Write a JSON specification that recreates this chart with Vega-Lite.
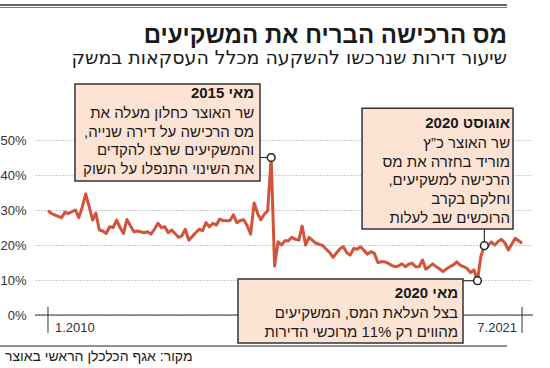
{
  "$schema": "https://vega.github.io/schema/vega-lite/v6.json",
  "width": 498,
  "height": 175,
  "autosize": {"type": "none"},
  "padding": {"left": 35, "top": 140, "right": 17, "bottom": 53},
  "background": "white",
  "config": {"view": {"stroke": null}, "text": {"font": "Liberation Sans"}},
  "encoding": {
    "x": {"field": "x", "type": "temporal", "scale": {"type": "utc", "domain": [{"year": 2009, "month": 9, "date": 8, "utc": true}, {"year": 2021, "month": 10, "date": 6, "utc": true}]}, "axis": null},
    "y": {"field": "y", "type": "quantitative", "scale": {"domain": [0, 50], "nice": false, "zero": false},
      "axis": {"values": [0, 10, 20, 30, 40, 50], "domain": false, "ticks": false, "grid": true, "gridDash": [1, 2], "gridColor": "#9a9a9a", "gridWidth": 1, "labelPadding": 9, "labelFont": "Liberation Sans Narrow, Liberation Sans", "labelFontSize": 13, "labelColor": "#333333", "labelExpr": "datum.value + '%'", "title": null}}
  },
  "layer": [
    {"data": {"values": [{"x": "2008-11-01", "x2": "2021-02-18", "y": 88.57}]}, "mark": {"type": "rule", "color": "#666666", "strokeWidth": 2}, "encoding": {"x2": {"field": "x2"}}},
    {"data": {"values": [{"x": "2008-11-01", "x2": "2021-02-18", "y": 87.86}]}, "mark": {"type": "rule", "color": "#777777", "strokeWidth": 1}, "encoding": {"x2": {"field": "x2"}}},
    {"data": {"values": [{"x": "2008-11-01", "x2": "2021-02-18", "y": -8.86}]}, "mark": {"type": "rule", "color": "#222222", "strokeWidth": 1}, "encoding": {"x2": {"field": "x2"}}},
    {"data": {"values": [{"x": "2009-09-08", "x2": "2021-10-06", "y": 0}]}, "mark": {"type": "rule", "color": "#333333", "strokeWidth": 1.2}, "encoding": {"x2": {"field": "x2"}}},
    {"data": {"values": [{"x": "2010-01-01", "y": 2.3, "y2": -5.1}, {"x": "2021-07-01", "y": 2.3, "y2": -5.1}]}, "mark": {"type": "rule", "color": "#333333", "strokeWidth": 1}, "encoding": {"y2": {"field": "y2"}}},
    {"data": {"values": [{"x": "2010-03-04", "y": -4.9, "t": "1.2010"}]}, "mark": {"type": "text", "align": "left", "baseline": "alphabetic", "font": "Liberation Sans Narrow, Liberation Sans", "fontSize": 13, "color": "#333333"}, "encoding": {"text": {"field": "t"}}},
    {"data": {"values": [{"x": "2021-05-18", "y": -4.9, "t": "7.2021"}]}, "mark": {"type": "text", "align": "right", "baseline": "alphabetic", "font": "Liberation Sans Narrow, Liberation Sans", "fontSize": 13, "color": "#333333"}, "encoding": {"text": {"field": "t"}}},
    {"data": {"values": [
      {"x": "2010-01-01", "y": 29.8}, {"x": "2010-02-01", "y": 29.0}, {"x": "2010-03-01", "y": 28.6}, {"x": "2010-04-01", "y": 28.2}, {"x": "2010-05-01", "y": 27.8}, {"x": "2010-06-01", "y": 29.4}, {"x": "2010-07-01", "y": 29.0}, {"x": "2010-08-01", "y": 29.5}, {"x": "2010-09-01", "y": 30.0}, {"x": "2010-10-01", "y": 27.8}, {"x": "2010-11-01", "y": 30.9}, {"x": "2010-12-01", "y": 34.6},
      {"x": "2011-01-01", "y": 30.9}, {"x": "2011-02-01", "y": 27.1}, {"x": "2011-03-01", "y": 29.1}, {"x": "2011-04-01", "y": 24.3}, {"x": "2011-05-01", "y": 24.0}, {"x": "2011-06-01", "y": 23.3}, {"x": "2011-07-01", "y": 25.2}, {"x": "2011-08-01", "y": 25.0}, {"x": "2011-09-01", "y": 27.1}, {"x": "2011-10-01", "y": 25.0}, {"x": "2011-11-01", "y": 23.3}, {"x": "2011-12-01", "y": 27.3},
      {"x": "2012-01-01", "y": 25.5}, {"x": "2012-02-01", "y": 23.8}, {"x": "2012-03-01", "y": 24.0}, {"x": "2012-04-01", "y": 23.8}, {"x": "2012-05-01", "y": 23.5}, {"x": "2012-06-01", "y": 23.8}, {"x": "2012-07-01", "y": 23.1}, {"x": "2012-08-01", "y": 24.5}, {"x": "2012-09-01", "y": 26.2}, {"x": "2012-10-01", "y": 25.0}, {"x": "2012-11-01", "y": 25.2}, {"x": "2012-12-01", "y": 23.5},
      {"x": "2013-01-01", "y": 24.3}, {"x": "2013-02-01", "y": 23.2}, {"x": "2013-03-01", "y": 22.2}, {"x": "2013-04-01", "y": 22.6}, {"x": "2013-05-01", "y": 24.5}, {"x": "2013-06-01", "y": 21.4}, {"x": "2013-07-01", "y": 22.4}, {"x": "2013-08-01", "y": 23.5}, {"x": "2013-09-01", "y": 24.5}, {"x": "2013-10-01", "y": 24.1}, {"x": "2013-11-01", "y": 26.4}, {"x": "2013-12-01", "y": 25.2},
      {"x": "2014-01-01", "y": 26.2}, {"x": "2014-02-01", "y": 25.7}, {"x": "2014-03-01", "y": 27.4}, {"x": "2014-04-01", "y": 27.0}, {"x": "2014-05-01", "y": 26.9}, {"x": "2014-06-01", "y": 27.0}, {"x": "2014-07-01", "y": 28.6}, {"x": "2014-08-01", "y": 26.4}, {"x": "2014-09-01", "y": 27.0}, {"x": "2014-10-01", "y": 27.2}, {"x": "2014-11-01", "y": 25.5}, {"x": "2014-12-01", "y": 23.1},
      {"x": "2015-01-01", "y": 32.0}, {"x": "2015-02-01", "y": 29.0}, {"x": "2015-03-01", "y": 27.2}, {"x": "2015-04-01", "y": 28.8}, {"x": "2015-05-01", "y": 29.8}, {"x": "2015-06-01", "y": 45.0}, {"x": "2015-07-01", "y": 14.0}, {"x": "2015-08-01", "y": 20.9}, {"x": "2015-09-01", "y": 20.0}, {"x": "2015-10-01", "y": 21.2}, {"x": "2015-11-01", "y": 21.2}, {"x": "2015-12-01", "y": 22.2},
      {"x": "2016-01-01", "y": 21.6}, {"x": "2016-02-01", "y": 21.4}, {"x": "2016-03-01", "y": 25.4}, {"x": "2016-04-01", "y": 20.0}, {"x": "2016-05-01", "y": 22.2}, {"x": "2016-06-01", "y": 21.3}, {"x": "2016-07-01", "y": 20.5}, {"x": "2016-08-01", "y": 20.2}, {"x": "2016-09-01", "y": 19.8}, {"x": "2016-10-01", "y": 18.8}, {"x": "2016-11-01", "y": 17.8}, {"x": "2016-12-01", "y": 16.5},
      {"x": "2017-01-01", "y": 17.8}, {"x": "2017-02-01", "y": 19.0}, {"x": "2017-03-01", "y": 19.5}, {"x": "2017-04-01", "y": 17.8}, {"x": "2017-05-01", "y": 17.1}, {"x": "2017-06-01", "y": 19.0}, {"x": "2017-07-01", "y": 18.8}, {"x": "2017-08-01", "y": 19.5}, {"x": "2017-09-01", "y": 18.4}, {"x": "2017-10-01", "y": 17.4}, {"x": "2017-11-01", "y": 18.1}, {"x": "2017-12-01", "y": 17.6},
      {"x": "2018-01-01", "y": 15.0}, {"x": "2018-02-01", "y": 15.2}, {"x": "2018-03-01", "y": 15.2}, {"x": "2018-04-01", "y": 14.8}, {"x": "2018-05-01", "y": 14.2}, {"x": "2018-06-01", "y": 13.8}, {"x": "2018-07-01", "y": 14.0}, {"x": "2018-08-01", "y": 14.6}, {"x": "2018-09-01", "y": 13.8}, {"x": "2018-10-01", "y": 14.5}, {"x": "2018-11-01", "y": 14.8}, {"x": "2018-12-01", "y": 13.8},
      {"x": "2019-01-01", "y": 13.8}, {"x": "2019-02-01", "y": 15.7}, {"x": "2019-03-01", "y": 13.1}, {"x": "2019-04-01", "y": 13.8}, {"x": "2019-05-01", "y": 14.6}, {"x": "2019-06-01", "y": 13.8}, {"x": "2019-07-01", "y": 13.2}, {"x": "2019-08-01", "y": 12.4}, {"x": "2019-09-01", "y": 13.2}, {"x": "2019-10-01", "y": 13.8}, {"x": "2019-11-01", "y": 14.3}, {"x": "2019-12-01", "y": 15.2},
      {"x": "2020-01-01", "y": 14.2}, {"x": "2020-02-01", "y": 13.8}, {"x": "2020-03-01", "y": 13.3}, {"x": "2020-04-01", "y": 12.1}, {"x": "2020-05-01", "y": 12.9}, {"x": "2020-06-01", "y": 9.8}, {"x": "2020-07-01", "y": 16.7}, {"x": "2020-08-01", "y": 19.8}, {"x": "2020-09-01", "y": 19.7}, {"x": "2020-10-01", "y": 20.9}, {"x": "2020-11-01", "y": 20.0}, {"x": "2020-12-01", "y": 21.0},
      {"x": "2021-01-01", "y": 21.6}, {"x": "2021-02-01", "y": 20.5}, {"x": "2021-03-01", "y": 18.6}, {"x": "2021-04-01", "y": 20.3}, {"x": "2021-05-01", "y": 21.9}, {"x": "2021-06-01", "y": 21.2}, {"x": "2021-07-01", "y": 20.5}
    ]}, "mark": {"type": "line", "color": "#d2523a", "strokeWidth": 3, "strokeJoin": "round"}},
    {"data": {"values": [
      {"x": "2010-08-28", "x2": "2015-02-22", "y": 66.0, "y2": 38.3},
      {"x": "2017-08-14", "x2": "2021-04-12", "y": 59.1, "y2": 24.6},
      {"x": "2014-08-11", "x2": "2020-01-25", "y": 10.3, "y2": -8.0}
    ]}, "mark": {"type": "rect", "fill": "#fde3d3", "stroke": "#333333", "strokeWidth": 1.5}, "encoding": {"x2": {"field": "x2"}, "y2": {"field": "y2"}}},
    {"data": {"values": [
      {"x": "2015-02-22", "x2": "2015-06-01", "y": 45.0, "y2": 45.0},
      {"x": "2020-08-01", "x2": "2020-08-01", "y": 24.6, "y2": 19.8},
      {"x": "2020-01-25", "x2": "2020-06-01", "y": 9.8, "y2": 9.8}
    ]}, "mark": {"type": "rule", "color": "#333333", "strokeWidth": 1.2}, "encoding": {"x2": {"field": "x2"}, "y2": {"field": "y2"}}},
    {"data": {"values": [
      {"x": "2015-06-01", "y": 45.0},
      {"x": "2020-06-01", "y": 9.8},
      {"x": "2020-08-01", "y": 19.8}
    ]}, "mark": {"type": "circle", "fill": "#ffffff", "stroke": "#222222", "strokeWidth": 1.5, "size": 60, "opacity": 1}},
    {"data": {"values": [
      {"x": "2015-01-01", "y": 62.0, "t": "מאי 2015"},
      {"x": "2021-03-17", "y": 53.4, "t": "אוגוסט 2020"},
      {"x": "2019-12-12", "y": 4.9, "t": "מאי 2020"}
    ]}, "mark": {"type": "text", "align": "right", "baseline": "alphabetic", "fontWeight": "bold", "fontSize": 15, "color": "#1a1a1a"}, "encoding": {"text": {"field": "t"}}},
    {"data": {"values": [
      {"x": "2015-01-01", "y": 56.3, "t": "שר האוצר כחלון מעלה את\nמס הרכישה על דירה שנייה,\u200f\nוהמשקיעים שרצו להקדים\nאת השינוי התנפלו על השוק"},
      {"x": "2021-03-17", "y": 47.7, "t": "שר האוצר כ”ץ\nמוריד בחזרה את מס\nהרכישה למשקיעים,\u200f\nוחלקם בקרב\nהרוכשים שב לעלות"},
      {"x": "2019-12-12", "y": -0.86, "t": "בצל העלאת המס, המשקיעים\nמהווים רק 11% מרוכשי הדירות"}
    ]}, "mark": {"type": "text", "align": "right", "baseline": "alphabetic", "fontSize": 15, "lineHeight": 18.7, "lineBreak": "\n", "color": "#1a1a1a"}, "encoding": {"text": {"field": "t"}}},
    {"data": {"values": [{"x": "2021-02-18", "y": 77.6, "t": "מס הרכישה הבריח את המשקיעים"}]}, "mark": {"type": "text", "align": "right", "baseline": "alphabetic", "fontWeight": "bold", "fontSize": 24, "color": "#1a1a1a"}, "encoding": {"text": {"field": "t"}}},
    {"data": {"values": [{"x": "2021-02-18", "y": 71.7, "t": "שיעור דירות שנרכשו להשקעה מכלל העסקאות במשק"}]}, "mark": {"type": "text", "align": "right", "baseline": "alphabetic", "font": "DejaVu Sans", "fontSize": 19, "color": "#1a1a1a"}, "encoding": {"text": {"field": "t"}}},
    {"data": {"values": [{"x": "2008-12-16", "y": -13.1, "t": "מקור: אגף הכלכלן הראשי באוצר"}]}, "mark": {"type": "text", "align": "left", "baseline": "alphabetic", "fontSize": 14, "color": "#1a1a1a"}, "encoding": {"text": {"field": "t"}}}
  ]
}
